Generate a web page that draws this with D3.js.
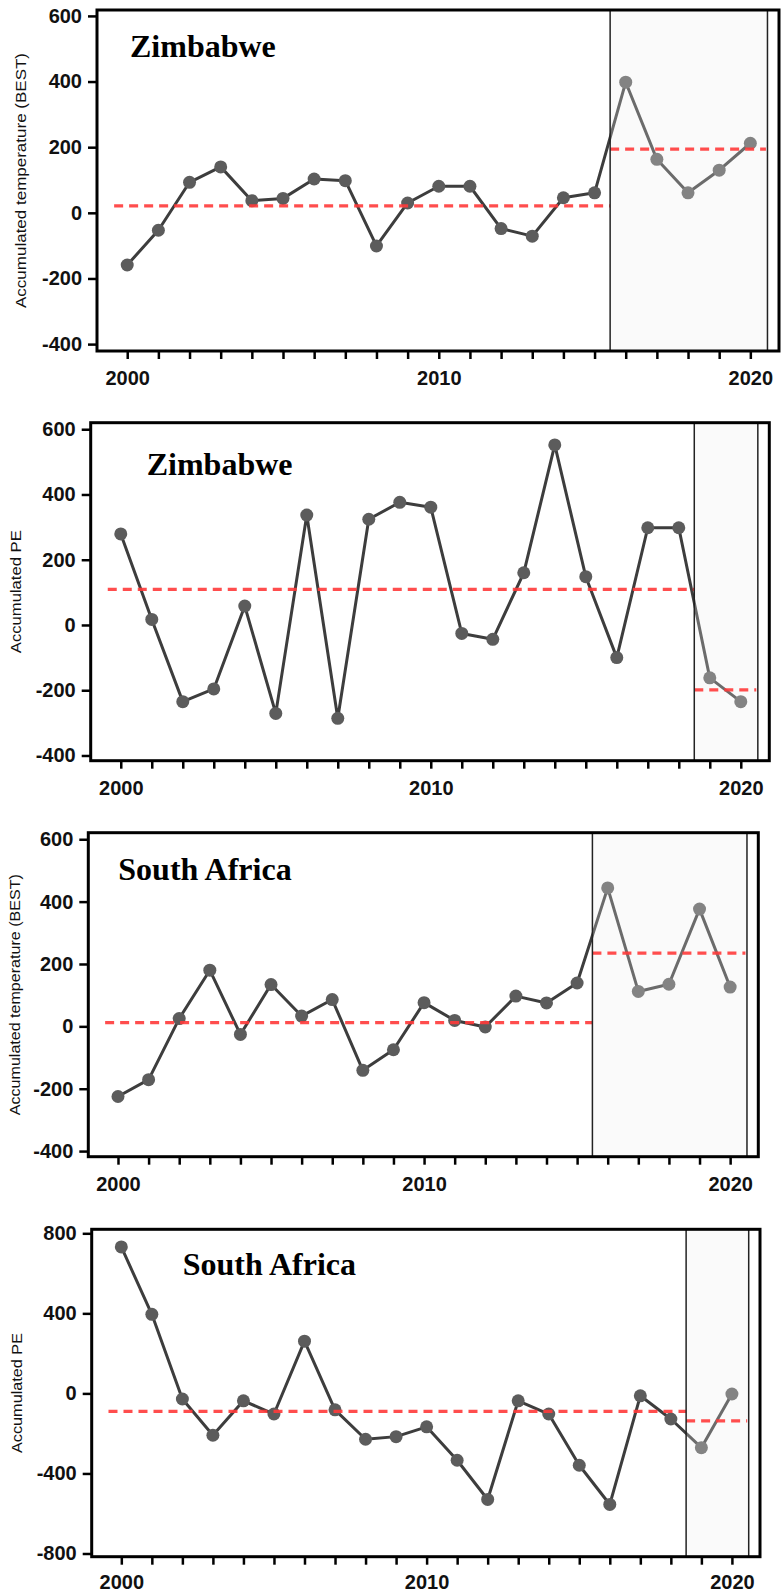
<!DOCTYPE html>
<html>
<head>
<meta charset="utf-8">
<script src="https://cdn.jsdelivr.net/npm/d3@7"></script>
<style>
  html, body { margin: 0; padding: 0; background: #fff; }
  svg { display: block; }
</style>
</head>
<body>
<svg id="chart" width="782" height="1593"></svg>
<script>
// ---------------- DATA ----------------
const years = [2000, 2001, 2002, 2003, 2004, 2005, 2006, 2007, 2008, 2009, 2010,
               2011, 2012, 2013, 2014, 2015, 2016, 2017, 2018, 2019, 2020];
const xTickLabels = [2000, 2010, 2020];

const zimbabweTemp = [-159, -53, 93, 140, 37, 44, 103, 98, -101, 30, 81,
                      81, -48, -71, 46, 61, 398, 163, 61, 130, 212];
const zimbabwePE   = [279, 17, -235, -196, 58, -271, 337, -286, 324, 376, 361,
                      -26, -44, 160, 552, 148, -100, 298, 298, -162, -235];
const southAfricaTemp = [-225, -171, 25, 180, -26, 134, 33, 86, -141, -75, 76,
                         19, -2, 97, 75, 139, 444, 112, 135, 376, 126];
const southAfricaPE   = [732, 395, -28, -209, -37, -103, 261, -82, -229, -216, -167,
                         -334, -530, -37, -103, -359, -555, -12, -128, -271, -3];

const zimbabweTempMeans = [21, 194];
const zimbabwePEMeans = [109, -199];
const southAfricaTempMeans = [12, 235];
const southAfricaPEMeans = [-90, -137];

const breakYears = [2015.5, 2018.5, 2015.5, 2018.5];

const tempTicks = [-400, -200, 0, 200, 400, 600];
const pe1Ticks = [-400, -200, 0, 200, 400, 600];
const pe2Ticks = [-800, -400, 0, 400, 800];

const titles = ["Zimbabwe", "Zimbabwe", "South Africa", "South Africa"];
const yLabels = ["Accumulated temperature (BEST)", "Accumulated PE",
                 "Accumulated temperature (BEST)", "Accumulated PE"];

// ---------------- LAYOUT ----------------
const panels = [
  { values: zimbabweTemp, means: zimbabweTempMeans, ticks: tempTicks, yDom: [-421, 618],
    box: { l: 97, r: 779, t: 10, b: 351 }, title: { x: 130, y: 57 },
    ylab: { x: 20.7, len: 255 }, xpad: 12 },
  { values: zimbabwePE, means: zimbabwePEMeans, ticks: pe1Ticks, yDom: [-416, 620],
    box: { l: 90.7, r: 769.3, t: 422.7, b: 760.7 }, title: { x: 146.7, y: 475 },
    ylab: { x: 16, len: 123 }, xpad: 12 },
  { values: southAfricaTemp, means: southAfricaTempMeans, ticks: tempTicks, yDom: [-418, 621],
    box: { l: 88.3, r: 758.3, t: 832.7, b: 1156.7 }, title: { x: 118.3, y: 879.5 },
    ylab: { x: 15, len: 241 }, xpad: 12 },
  { values: southAfricaPE, means: southAfricaPEMeans, ticks: pe2Ticks, yDom: [-816, 820],
    box: { l: 91.7, r: 760, t: 1229.3, b: 1556.7 }, title: { x: 182.7, y: 1275 },
    ylab: { x: 17.3, len: 120 }, xpad: 10 }
];

const xDomain = [1999.03, 2020.92];
const shadeEnd = 2020.55;
const meanStart = 1999.58;
const meanEnd2 = 2020.5;

const svg = d3.select("#chart");

panels.forEach((p, i) => {
  const B = p.box;
  const x = d3.scaleLinear().domain(xDomain).range([B.l, B.r]);
  const y = d3.scaleLinear().domain(p.yDom).range([B.b, B.t]);
  const brk = breakYears[i];
  const g = svg.append("g");

  // shaded region background
  g.append("rect")
    .attr("x", x(brk)).attr("y", B.t)
    .attr("width", x(shadeEnd) - x(brk)).attr("height", B.b - B.t)
    .attr("fill", "#f9f9f9");

  const pts = years.map((yr, k) => ({ yr, v: p.values[k] }));

  // data line
  g.append("path")
    .datum(pts)
    .attr("fill", "none")
    .attr("stroke", "#3d3d3d")
    .attr("stroke-width", 3)
    .attr("stroke-linejoin", "round")
    .attr("d", d3.line().x(d => x(d.yr)).y(d => y(d.v)));

  // points
  g.selectAll("circle.pt")
    .data(pts)
    .join("circle")
    .attr("class", "pt")
    .attr("cx", d => x(d.yr))
    .attr("cy", d => y(d.v))
    .attr("r", 6.5)
    .attr("fill", "#5c5c5c");

  // lightening overlay on shaded region
  g.append("rect")
    .attr("x", x(brk)).attr("y", B.t)
    .attr("width", x(shadeEnd) - x(brk)).attr("height", B.b - B.t)
    .attr("fill", "#ffffff")
    .attr("fill-opacity", 0.24);

  // mean lines
  const meanSegs = [
    { x0: meanStart, x1: brk, v: p.means[0] },
    { x0: brk, x1: meanEnd2, v: p.means[1] }
  ];
  g.selectAll("line.mean")
    .data(meanSegs)
    .join("line")
    .attr("class", "mean")
    .attr("x1", d => x(d.x0)).attr("x2", d => x(d.x1))
    .attr("y1", d => y(d.v)).attr("y2", d => y(d.v))
    .attr("stroke", "#ff3a3a")
    .attr("stroke-opacity", 0.9)
    .attr("stroke-width", 3.2)
    .attr("stroke-dasharray", "9,6");

  // shade boundary lines
  [brk, shadeEnd].forEach(v => {
    g.append("line")
      .attr("x1", x(v)).attr("x2", x(v))
      .attr("y1", B.t).attr("y2", B.b)
      .attr("stroke", "#222")
      .attr("stroke-width", 1.5);
  });

  // frame
  g.append("rect")
    .attr("x", B.l).attr("y", B.t)
    .attr("width", B.r - B.l).attr("height", B.b - B.t)
    .attr("fill", "none")
    .attr("stroke", "#000")
    .attr("stroke-width", 3);

  // y axis
  const ya = g.append("g")
    .attr("transform", `translate(${B.l},0)`)
    .call(d3.axisLeft(y).tickValues(p.ticks).tickSize(9).tickPadding(6).tickFormat(d => String(d)));
  ya.select(".domain").remove();
  ya.selectAll(".tick line").attr("stroke", "#000").attr("stroke-width", 2.5);
  ya.selectAll(".tick text")
    .attr("fill", "#111")
    .style("font-family", "'Liberation Sans', Arial, sans-serif")
    .style("font-weight", "bold")
    .style("font-size", "20px");

  // x axis
  const xa = g.append("g")
    .attr("transform", `translate(0,${B.b})`)
    .call(d3.axisBottom(x).tickValues(years).tickSize(8).tickPadding(p.xpad)
      .tickFormat(d => xTickLabels.includes(d) ? String(d) : ""));
  xa.select(".domain").remove();
  xa.selectAll(".tick line").attr("stroke", "#000").attr("stroke-width", 2.5);
  xa.selectAll(".tick text")
    .attr("fill", "#111")
    .style("font-family", "'Liberation Sans', Arial, sans-serif")
    .style("font-weight", "bold")
    .style("font-size", "20px");

  // title
  g.append("text")
    .attr("x", p.title.x).attr("y", p.title.y)
    .attr("fill", "#000")
    .style("font-family", "'Liberation Serif', 'Times New Roman', serif")
    .style("font-weight", "bold")
    .style("font-size", "32px")
    .text(titles[i]);

  // y label
  const cy = (B.t + B.b) / 2;
  g.append("text")
    .attr("transform", `translate(${p.ylab.x + 5},${cy}) rotate(-90)`)
    .attr("text-anchor", "middle")
    .attr("fill", "#111")
    .attr("textLength", p.ylab.len)
    .attr("lengthAdjust", "spacingAndGlyphs")
    .style("font-family", "'Liberation Sans', Arial, sans-serif")
    .style("font-size", "14px")
    .text(yLabels[i]);
});
</script>
</body>
</html>
